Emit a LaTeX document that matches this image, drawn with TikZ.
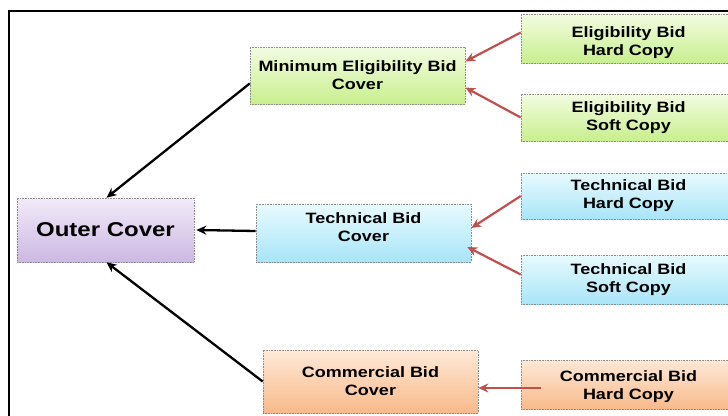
\documentclass[tikz,border=0pt]{standalone}
\usepackage{fontspec}
\newfontfamily\boxfont[FakeStretch=1.2]{Liberation Sans}
\usetikzlibrary{arrows.meta}

\definecolor{greentop}{HTML}{F3FCE1}
\definecolor{greenbot}{HTML}{C8EF8E}
\definecolor{bluetop}{HTML}{E8FAFE}
\definecolor{bluebot}{HTML}{A8E5F8}
\definecolor{violettop}{HTML}{F2EBF9}
\definecolor{violetbot}{HTML}{CCB8E2}
\definecolor{orangetop}{HTML}{FEE9D8}
\definecolor{orangebot}{HTML}{F8BA8A}
\definecolor{arrowred}{HTML}{C0504D}

\tikzset{
    coverbox/.style={
        draw=black!45,
        densely dotted,
        line width=0.6pt,
        minimum width=215pt,
        minimum height=57pt,
        align=center,
        inner sep=0pt,
        font=\boxfont\bfseries\fontsize{15}{18}\selectfont
        },
    copybox/.style={coverbox, minimum height=48pt},
    greenfill/.style={top color=greentop, bottom color=greenbot},
    bluefill/.style={top color=bluetop, bottom color=bluebot},
    orangefill/.style={top color=orangetop, bottom color=orangebot},
    blackarrow/.style={
        draw=black,
        line width=2.3pt,
        -{Stealth[length=10pt,width=9pt]}
        },
    redarrow/.style={
        draw=arrowred,
        line width=2.2pt,
        -{Stealth[length=10pt,width=9pt]}
        }
}

\begin{document}
\begin{tikzpicture}[x=1pt,y=-1pt]
    \useasboundingbox (0,0) rectangle (728,415);
    \clip (0,0) rectangle (728,415);

    % Frame:
    \draw[line width=2pt] (9,430) -- (9,11) -- (740,11);

    % Outer cover:
    \node[coverbox,
          top color=violettop, bottom color=violetbot,
          minimum width=177pt, minimum height=64pt,
          font=\boxfont\bfseries\fontsize{20}{24}\selectfont
          ] (outer) at (105.5,230) {Outer Cover};

    % Middle covers:
    \node[coverbox,greenfill] (mincov) at (357.5,75.5)
        {Minimum Eligibility Bid\\Cover};
    \node[coverbox,bluefill,minimum height=58pt] (techcov) at (363.5,233)
        {Technical Bid\\Cover\\[-6pt]};
    \node[coverbox,orangefill,minimum height=63pt] (commcov) at (370.5,381.5)
        {Commercial Bid\\Cover};

    % Copies on the right:
    \node[copybox,greenfill,minimum height=49pt] (ehard) at (628.5,38.5)
        {\rule{0pt}{19pt}Eligibility Bid\\Hard Copy};
    \node[copybox,greenfill,minimum height=47pt] (esoft) at (628.5,117.5)
        {Eligibility Bid\\Soft Copy};
    \node[copybox,bluefill,minimum height=46pt] (thard) at (628.5,196)
        {Technical Bid\\Hard Copy};
    \node[copybox,bluefill,minimum height=49pt] (tsoft) at (628.5,279.5)
        {Technical Bid\\Soft Copy};
    \node[copybox,orangefill,minimum height=49pt] (chard) at (628.5,384.5)
        {\rule{0pt}{15pt}Commercial Bid\\Hard Copy};

    % Covers into the outer cover:
    \draw[blackarrow] ([yshift=-8pt]mincov.west) -- ([xshift=1pt]outer.north);
    \draw[blackarrow] ([yshift=2pt]techcov.west) -- ([xshift=2pt]outer.east);
    \draw[blackarrow] (commcov.west) -- ([xshift=1pt]outer.south);

    % Copies into the covers:
    \draw[redarrow] ([yshift=6pt]ehard.west) -- ([yshift=14pt]mincov.east);
    \draw[redarrow] (esoft.west) -- ([yshift=-12pt]mincov.east);
    \draw[redarrow] (thard.west) -- ([yshift=5pt]techcov.east);
    \draw[redarrow] ([yshift=5pt]tsoft.west) -- ([xshift=-4pt,yshift=-14pt]techcov.east);
    \draw[redarrow] ([xshift=20pt,yshift=-3.5pt]chard.west) -- ([yshift=-6.5pt]commcov.east);
\end{tikzpicture}
\end{document}
